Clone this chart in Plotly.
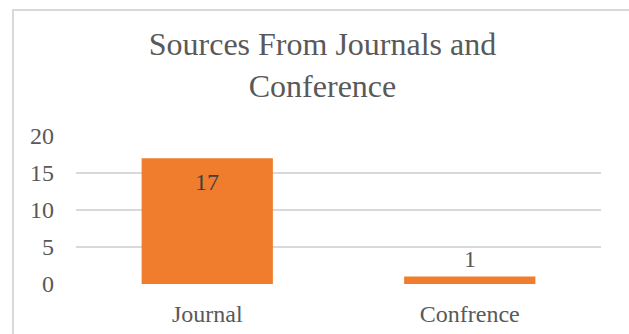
import plotly.graph_objects as go

categories = ["Journal", "Confrence"]
values = [17, 1]
y_ticks = [0, 5, 10, 15, 20]
title_text = "Sources From Journals and<br>Conference"

W, H = 629, 334
L, R, T, B = 76, 28, 136, 50
pw, ph = W - L - R, H - T - B

text_color = "#595959"
grid_color = "#d9d9d9"
bar_color = "#f07d2d"
font_family = "Liberation Serif, Times New Roman, serif"

fig = go.Figure()
fig.add_trace(go.Bar(
    x=categories,
    y=values,
    width=0.5,
    marker=dict(color=bar_color, line=dict(width=0)),
    hoverinfo="skip",
))

# data labels
for c, v in zip(categories, values):
    if v >= 5:
        fig.add_annotation(x=c, y=v, text=str(v), showarrow=False,
                           yanchor="top", yshift=-9,
                           font=dict(family=font_family, size=24, color="#404040"))
    else:
        fig.add_annotation(x=c, y=v, text=str(v), showarrow=False,
                           yanchor="bottom", yshift=3,
                           font=dict(family=font_family, size=24, color=text_color))

def px_to_paper_x(px):
    return (px - L) / pw

def px_to_paper_y(py):
    return (H - B - py) / ph

# chart frame
fig.add_shape(type="rect", xref="paper", yref="paper",
              x0=px_to_paper_x(13), x1=px_to_paper_x(650),
              y0=px_to_paper_y(360), y1=px_to_paper_y(10),
              line=dict(color=grid_color, width=2), fillcolor="rgba(0,0,0,0)",
              layer="below")

fig.update_layout(
    width=W, height=H,
    margin=dict(l=L, r=R, t=T, b=B, pad=0, autoexpand=False),
    paper_bgcolor="white", plot_bgcolor="white",
    showlegend=False,
    bargap=0.5,
    title=dict(text=title_text, xref="container", yref="container",
               x=322.5 / W, xanchor="center", y=1 - 55 / H, yanchor="top",
               automargin=False,
               font=dict(family=font_family, size=32, color=text_color)),
    font=dict(family=font_family, color=text_color, size=24),
    xaxis=dict(showgrid=False, showline=False, zeroline=False,
               tickfont=dict(size=24, color=text_color), automargin=False,
               ticks="", ticklabelstandoff=13, fixedrange=True),
    yaxis=dict(range=[0, 20], tickvals=y_ticks, showgrid=True,
               gridcolor=grid_color, gridwidth=1.5, zeroline=False,
               showline=False, ticks="", ticklabelstandoff=21, automargin=False,
               tickfont=dict(size=24, color=text_color), fixedrange=True),
)

fig.write_html("out.html")
